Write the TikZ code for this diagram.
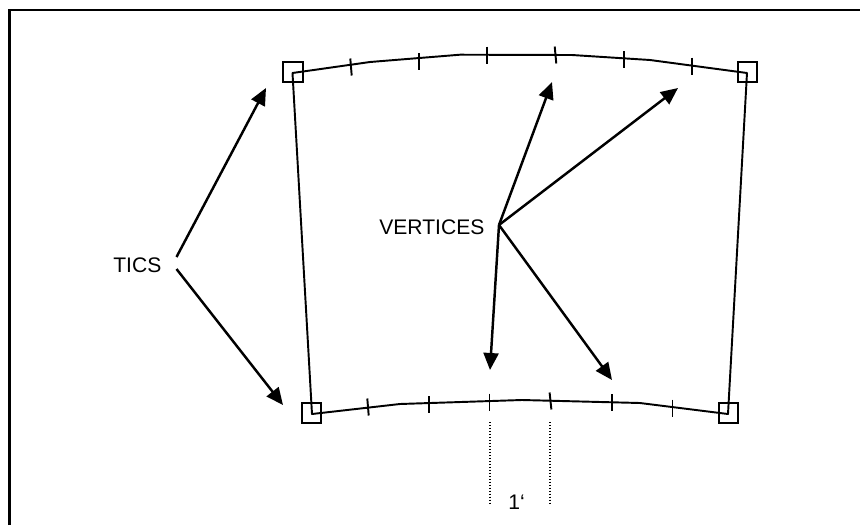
\documentclass[tikz,border=0pt]{standalone}
\usepackage{fontspec}
\setmainfont{Liberation Sans}
\usetikzlibrary{arrows.meta, positioning}

\begin{document}
\begin{tikzpicture}[
  x=0.02cm, y=-0.02cm,
  lbl/.style={inner sep=0pt, font=\fontsize{12}{14}\selectfont},
  vert/.style={rectangle, draw=black, line width=1.1pt, minimum size=0.39cm, inner sep=0pt},
  edge/.style={line width=1.1pt, line join=round},
  tic/.style={line width=1.1pt},
  ar/.style={-{Triangle[length=0.34cm, width=0.3cm]}, line width=1.4pt},
  dim/.style={dash pattern=on 0.8pt off 0.9pt, line width=0.9pt}
]
  \useasboundingbox (0,0) rectangle (860,525);

  % frame runs off the page at right and bottom
  \coordinate (fa) at (9.5,525);
  \coordinate (fb) at (9.5,10);
  \coordinate (fc) at (860,10);
  \draw[line width=1.3pt] (fa) -- (fb) -- (fc);

  % corner vertices
  \node[vert] (tl) at (293,72) {};
  \node[vert] (tr) at (747.5,72) {};
  \node[vert] (bl) at (311.5,413) {};
  \node[vert] (br) at (728.5,413) {};
  \coordinate (vtl) at (292.5,73);
  \coordinate (vtr) at (747,73);
  \coordinate (vbl) at (312,414);
  \coordinate (vbr) at (728,414);

  % outline
  \draw[edge] (vtl) -- (370,62) -- (460,54.7) -- (572,55) -- (650,60) -- (vtr) -- (vbr)
    -- (640,403) -- (522,400) -- (400,404) -- (vbl) -- cycle;

  % tics
  \foreach \x/\y/\d in {351/67/0.7, 419/61.5/0, 487/55/0, 555.5/55/0.8, 624/59.5/0, 692/66/0,
                        368/407/0.7, 429/404.5/0, 489.5/402/0, 550.5/401/0.9, 612/402.5/0, 672.5/408/0}
    \draw[tic] (\x-\d,\y-8.5) -- (\x+\d,\y+8.5);

  % labels
  \node[lbl, anchor=base west] (tics) at (113,272) {TICS};
  \node[lbl, anchor=base west] (verts) at (379,234) {VERTICES};
  \node[lbl, anchor=base west] (one) at (508,509) {1‘};

  % arrows
  \coordinate (ta) at (176.5,257);
  \coordinate (tb) at (176.5,269);
  \coordinate (va) at (499,225);
  \coordinate (ea) at (266,88);
  \coordinate (eb) at (283,405);
  \coordinate (ec) at (552,82);
  \coordinate (ed) at (678,88);
  \coordinate (ee) at (490,370);
  \coordinate (ef) at (612,380);
  \draw[ar] (ta) -- (ea);
  \draw[ar] (tb) -- (eb);
  \draw[ar] (va) -- (ec);
  \draw[ar] (va) -- (ed);
  \draw[ar] (va) -- (ee);
  \draw[ar] (va) -- (ef);

  % one minute spacing
  \coordinate (da) at (489.8,422);
  \coordinate (db) at (489.8,505);
  \coordinate (dc) at (550.2,422);
  \coordinate (dd) at (550.2,505);
  \draw[dim] (da) -- (db);
  \draw[dim] (dc) -- (dd);
\end{tikzpicture}
\end{document}
